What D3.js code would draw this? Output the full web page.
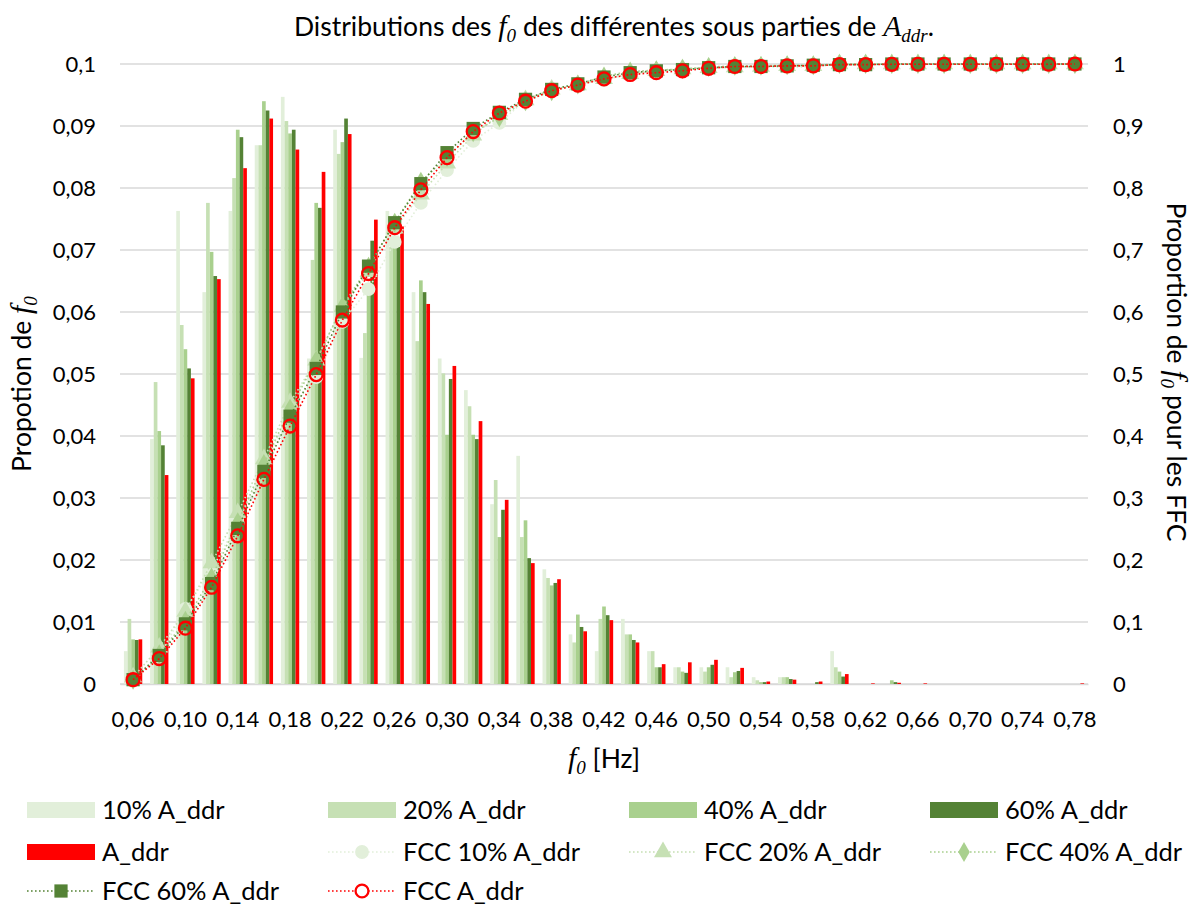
<!DOCTYPE html>
<html><head><meta charset="utf-8">
<script src="https://cdn.jsdelivr.net/npm/d3@7"></script>
<style>
html,body{margin:0;padding:0;background:#fff;}
svg{display:block;}
text{font-family:Lato,"Noto Sans",sans-serif;fill:#000;}
</style></head>
<body>
<svg id="chart" width="1193" height="904"></svg>
<script>
// ---------- DATA ----------
const categories = ["0,06","0,08","0,10","0,12","0,14","0,16","0,18","0,20","0,22","0,24","0,26","0,28","0,30","0,32","0,34","0,36","0,38","0,40","0,42","0,44","0,46","0,48","0,50","0,52","0,54","0,56","0,58","0,60","0,62","0,64","0,66","0,68","0,70","0,72","0,74","0,76","0,78"];

const bar10 = [0.0053,0.0395,0.0763,0.0632,0.0763,0.0869,0.0947,0.0525,0.0894,0.0526,0.0763,0.0632,0.0525,0.0474,0.0290,0.0368,0.0185,0.0080,0.0053,0.0105,0.0053,0.0027,0.0027,0.0027,0.0011,0.0011,0,0.0053,0,0,0,0,0,0,0,0,0];
const bar20 = [0.0105,0.0487,0.0579,0.0776,0.0816,0.0869,0.0908,0.0684,0.0855,0.0566,0.0705,0.0553,0.0501,0.0448,0.0329,0.0237,0.0171,0.0067,0.0105,0.0080,0.0053,0.0027,0.0020,0.0011,0.0006,0.0011,0,0.0027,0,0,0,0,0,0,0,0,0];
const bar40 = [0.0072,0.0408,0.0540,0.0697,0.0894,0.0940,0.0888,0.0776,0.0874,0.0640,0.0715,0.0651,0.0402,0.0402,0.0237,0.0264,0.0159,0.0112,0.0125,0.0080,0.0027,0.0020,0.0027,0.0019,0.0003,0.0011,0,0.0020,0,0.0006,0,0,0,0,0,0,0];
const bar60 = [0.0071,0.0385,0.0509,0.0658,0.0882,0.0925,0.0894,0.0768,0.0912,0.0715,0.0705,0.0632,0.0492,0.0395,0.0281,0.0203,0.0163,0.0092,0.0111,0.0071,0.0027,0.0018,0.0031,0.0021,0.0003,0.0008,0.0003,0.0012,0,0.0003,0,0,0,0,0,0,0];
const barA  = [0.0072,0.0337,0.0493,0.0653,0.0832,0.0912,0.0862,0.0826,0.0887,0.0749,0.0738,0.0613,0.0513,0.0424,0.0297,0.0195,0.0169,0.0085,0.0103,0.0067,0.0032,0.0035,0.0039,0.0026,0.0004,0.0007,0.0004,0.0016,0.0001,0.0002,0.0001,0,0,0,0,0,0.0001];

const fcc10 = [0.005,0.045,0.121,0.184,0.261,0.348,0.442,0.495,0.584,0.637,0.713,0.776,0.829,0.876,0.905,0.942,0.960,0.968,0.974,0.984,0.989,0.991,0.993,0.994,0.995,0.995,0.995,1,1,1,1,1,1,1,1,1,1];
const fcc20 = [0.011,0.059,0.117,0.195,0.276,0.363,0.454,0.522,0.608,0.665,0.735,0.790,0.840,0.885,0.918,0.942,0.959,0.966,0.976,0.984,0.989,0.992,0.994,0.995,0.996,0.997,0.997,1,1,1,1,1,1,1,1,1,1];
const fcc40 = [0.007,0.048,0.102,0.172,0.261,0.355,0.444,0.522,0.609,0.673,0.744,0.810,0.850,0.890,0.914,0.940,0.956,0.967,0.980,0.988,0.990,0.992,0.995,0.997,0.997,0.998,0.998,1,1,1,1,1,1,1,1,1,1];
const fcc60 = [0.007,0.046,0.097,0.162,0.251,0.343,0.432,0.509,0.600,0.674,0.744,0.807,0.857,0.896,0.922,0.943,0.959,0.968,0.979,0.986,0.989,0.991,0.994,0.996,0.996,0.997,0.998,0.999,0.999,1,1,1,1,1,1,1,1];
const fccA  = [0.007,0.041,0.090,0.156,0.239,0.330,0.416,0.499,0.587,0.662,0.736,0.797,0.849,0.891,0.921,0.940,0.957,0.966,0.976,0.983,0.986,0.989,0.993,0.996,0.996,0.997,0.997,0.999,0.999,0.9995,0.9996,0.9996,0.9996,0.9996,0.9996,0.9996,1];

const leftTicks = [0,0.01,0.02,0.03,0.04,0.05,0.06,0.07,0.08,0.09,0.1];
const rightTicks = [0,0.1,0.2,0.3,0.4,0.5,0.6,0.7,0.8,0.9,1];

const barNames = ["10% A_ddr","20% A_ddr","40% A_ddr","60% A_ddr","A_ddr"];
const lineNames = ["FCC 10% A_ddr","FCC 20% A_ddr","FCC 40% A_ddr","FCC 60% A_ddr","FCC A_ddr"];

// ---------- STYLE ----------
const barColors = ["#E2EFDA","#C6E0B4","#A9D08E","#548235","#FF0000"];
const lineColors = ["#E2EFDA","#C6E0B4","#A9D08E","#548235","#FF0000"];
const symbolTypes = [d3.symbolCircle, d3.symbolTriangle, d3.symbolDiamond, d3.symbolSquare, d3.symbolCircle];
const symbolSizes = [150, 140, 115, 175, 130];

const barSeries = [bar10, bar20, bar40, bar60, barA];
const lineSeries = [fcc10, fcc20, fcc40, fcc60, fccA];

const svg = d3.select("#chart");
const M = {left:120, right:1088, top:64, bottom:684};

const x0 = d3.scaleBand().domain(categories).range([M.left, M.right]).paddingInner(0).paddingOuter(0);
const x1 = d3.scaleBand().domain(d3.range(5)).range([0, x0.bandwidth()]).paddingInner(0).paddingOuter(1.07);
const yL = d3.scaleLinear().domain([0,0.1]).range([M.bottom, M.top]);
const yR = d3.scaleLinear().domain([0,1]).range([M.bottom, M.top]);

const fmt = v => d3.format("~g")(+v.toFixed(3)).replace(".", ",");

// gridlines
svg.append("g").selectAll("line").data(leftTicks).join("line")
  .attr("x1", M.left).attr("x2", M.right)
  .attr("y1", d => yL(d)).attr("y2", d => yL(d))
  .attr("stroke", "#D9D9D9").attr("stroke-width", 1.3);

// left axis
const gl = svg.append("g").attr("transform", `translate(${M.left-24},0)`)
  .call(d3.axisLeft(yL).tickValues(leftTicks).tickFormat(fmt).tickSize(0).tickPadding(0));
gl.select(".domain").remove();
gl.selectAll("text").attr("font-size", 22).attr("dy", "0.35em");

// right axis
const gr = svg.append("g").attr("transform", `translate(${M.right+25},0)`)
  .call(d3.axisRight(yR).tickValues(rightTicks).tickFormat(fmt).tickSize(0).tickPadding(0));
gr.select(".domain").remove();
gr.selectAll("text").attr("font-size", 22).attr("dy", "0.35em");

// bottom axis
const gx = svg.append("g").attr("transform", `translate(0,${M.bottom})`)
  .call(d3.axisBottom(x0).tickValues(categories.filter((c,i)=>i%2===0)).tickSize(0).tickPadding(27));
gx.select(".domain").attr("stroke", "#D9D9D9").attr("stroke-width", 1.3);
gx.selectAll("text").attr("font-size", 22);

// bars
const gb = svg.append("g");
barSeries.forEach((s, k) => {
  gb.append("g").selectAll("rect").data(s).join("rect")
    .attr("x", (d,i) => x0(categories[i]) + x1(k))
    .attr("width", x1.bandwidth())
    .attr("y", d => yL(d))
    .attr("height", d => M.bottom - yL(d))
    .attr("fill", barColors[k]);
});

// lines & markers
lineSeries.forEach((s, k) => {
  const cx = i => x0(categories[i]) + x0.bandwidth()/2;
  const line = d3.line().x((d,i) => cx(i)).y(d => yR(d));
  svg.append("path").datum(s).attr("d", line)
    .attr("fill", "none").attr("stroke", lineColors[k]).attr("stroke-width", 1.6)
    .attr("stroke-dasharray", "1.6,2.4").attr("stroke-linecap", "butt");
  const sym = d3.symbol().type(symbolTypes[k]).size(symbolSizes[k]);
  svg.append("g").selectAll("path").data(s).join("path")
    .attr("transform", (d,i) => `translate(${cx(i)},${yR(d)})`)
    .attr("d", sym)
    .attr("fill", k === 4 ? "none" : lineColors[k])
    .attr("stroke", k === 4 ? "#FF0000" : "none")
    .attr("stroke-width", k === 4 ? 2.3 : 0);
});

// math-like text helper
function mathText(sel, parts, base) {
  parts.forEach(p => {
    const t = sel.append("tspan").text(p.t);
    if (p.it) t.attr("font-family", "'Liberation Serif',serif").attr("font-style", "italic").attr("font-size", base*1.12);
    if (p.sub) t.attr("font-size", base*0.72).attr("dy", base*0.22);
    if (p.up) t.attr("dy", -base*0.22);
  });
}
const TB = 26.5;
const title = svg.append("text").attr("x", 614).attr("y", 36).attr("text-anchor", "middle").attr("font-size", TB);
mathText(title, [
  {t:"Distributions des "},
  {t:"f", it:true},
  {t:"0", it:true, sub:true},
  {t:" des différentes sous parties de ", up:true},
  {t:"A", it:true},
  {t:"ddr", it:true, sub:true},
  {t:".", up:true}
], TB);

const AB = 26.5;
// x axis title
const xt = svg.append("text").attr("x", 604).attr("y", 768).attr("text-anchor", "middle").attr("font-size", AB);
mathText(xt, [
  {t:"f", it:true},
  {t:"0", it:true, sub:true},
  {t:" [Hz]", up:true}
], AB);

// left axis title
const lt = svg.append("text").attr("transform", "translate(31,384) rotate(-90)").attr("text-anchor", "middle").attr("font-size", AB);
mathText(lt, [
  {t:"Propotion de "},
  {t:"f", it:true},
  {t:"0", it:true, sub:true}
], AB);

// right axis title
const rt = svg.append("text").attr("transform", "translate(1167,372) rotate(90)").attr("text-anchor", "middle").attr("font-size", AB);
mathText(rt, [
  {t:"Proportion de "},
  {t:"f", it:true},
  {t:"0", it:true, sub:true},
  {t:" pour les FFC", up:true}
], AB);

// legend
const colX = [27, 328, 629, 930];
const rowY = [810, 852, 891];
const LF = 25.5;
const items = [];
barNames.forEach((n,k) => items.push({name:n, type:"bar", k}));
lineNames.forEach((n,k) => items.push({name:n, type:"line", k}));
const lg = svg.append("g");
items.forEach((it, idx) => {
  const col = idx % 4, row = Math.floor(idx / 4);
  const gx0 = colX[col], gy = rowY[row];
  const g = lg.append("g");
  if (it.type === "bar") {
    g.append("rect").attr("x", gx0).attr("y", gy-8).attr("width", 68).attr("height", 16).attr("fill", barColors[it.k]);
  } else {
    g.append("line").attr("x1", gx0).attr("x2", gx0+68).attr("y1", gy).attr("y2", gy)
      .attr("stroke", lineColors[it.k]).attr("stroke-width", 1.6).attr("stroke-dasharray", "1.6,2.4");
    g.append("path").attr("transform", `translate(${gx0+34},${gy})`)
      .attr("d", d3.symbol().type(symbolTypes[it.k]).size(symbolSizes[it.k]))
      .attr("fill", it.k === 4 ? "#fff" : lineColors[it.k])
      .attr("stroke", it.k === 4 ? "#FF0000" : "none").attr("stroke-width", it.k===4?2.3:0);
  }
  g.append("text").attr("x", gx0+75).attr("y", gy).attr("dy", "0.35em").attr("font-size", LF).text(it.name);
});
</script>
</body></html>
